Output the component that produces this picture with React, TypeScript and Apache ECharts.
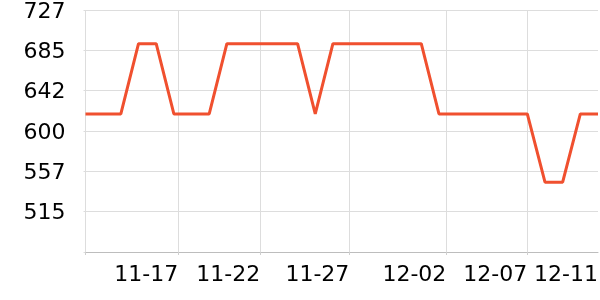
import React, { useEffect, useRef } from 'react';
import * as echarts from 'echarts';

const dates = [
  '11-12', '11-13', '11-14', '11-15', '11-16', '11-17', '11-18', '11-19', '11-20', '11-21',
  '11-22', '11-23', '11-24', '11-25', '11-26', '11-27', '11-28', '11-29', '11-30', '12-01',
  '12-02', '12-03', '12-04', '12-05', '12-06', '12-07', '12-08', '12-09', '12-10', '12-11',
];
const prices = [
  618, 618, 618, 692, 692, 618, 618, 618, 692, 692,
  692, 692, 692, 618, 692, 692, 692, 692, 692, 692,
  618, 618, 618, 618, 618, 618, 546, 546, 618, 618,
];
// x tick labels and where they fall (in day-index units along the axis)
const xTickLabels = ['11-17', '11-22', '11-27', '12-02', '12-07', '12-11'];
const xTickAt = [5.25, 9.89, 14.93, 20.42, 25, 29];
// y axis ticks
const yTicks = [472.5, 515, 557.5, 600, 642.5, 685, 727.5];

export default function App() {
  const ref = useRef<HTMLDivElement>(null);
  useEffect(() => {
    if (!ref.current) return;
    const chart = echarts.init(ref.current, undefined, { renderer: 'svg' });
    const font = 'DejaVu Sans';
    chart.setOption({
      animation: false,
      grid: { left: 85.5, right: 2, top: 10, bottom: 48, containLabel: false, outerBoundsMode: 'none' },
      xAxis: {
        type: 'value',
        min: 0,
        max: dates.length - 1,
        axisLine: { show: true, lineStyle: { color: '#bdbdbd', width: 1 } },
        axisTick: {
          show: true,
          length: 3,
          customValues: [0, ...xTickAt.slice(0, xTickAt.length - 1)],
          lineStyle: { color: '#cfcfcf' },
        },
        splitLine: { show: true, lineStyle: { color: '#dddddd', width: 1 } },
        axisLabel: {
          customValues: xTickAt,
          formatter: (v: number) => {
            const i = xTickAt.findIndex((t) => Math.abs(t - v) < 1e-6);
            return i >= 0 ? xTickLabels[i] : '';
          },
          align: 'right',
          fontSize: 22,
          fontFamily: font,
          color: '#000',
          margin: 10,
        },
      },
      yAxis: {
        type: 'value',
        min: yTicks[0],
        max: yTicks[yTicks.length - 1],
        axisLine: { show: false },
        axisTick: { show: true, length: 2, customValues: yTicks, lineStyle: { color: '#dddddd' } },
        splitLine: { show: true, lineStyle: { color: '#dddddd', width: 1 } },
        axisLabel: {
          customValues: yTicks.slice(1),
          formatter: (v: number) => String(Math.floor(v)),
          fontSize: 22,
          fontFamily: font,
          color: '#000',
          margin: 20,
        },
      },
      series: [
        {
          type: 'line',
          data: prices.map((p, i) => [i, p]),
          symbol: 'none',
          lineStyle: { color: '#f0502f', width: 3 },
        },
      ],
    });
    return () => chart.dispose();
  }, []);
  return <div ref={ref} style={{ position: 'fixed', left: 0, top: 0, width: 600, height: 300 }} />;
}
